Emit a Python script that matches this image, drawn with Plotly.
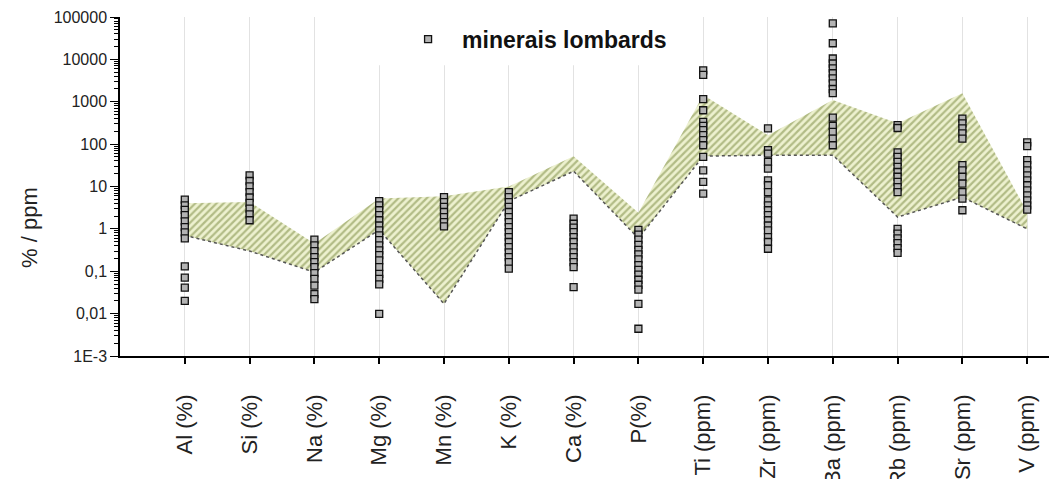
import plotly.graph_objects as go

categories = ["Al (%)", "Si (%)", "Na (%)", "Mg (%)", "Mn (%)", "K (%)", "Ca (%)", "P(%)",
              "Ti (ppm)", "Zr (ppm)", "Ba (ppm)", "Rb (ppm)", "Sr (ppm)", "V (ppm)"]

al = [4.9, 3.6, 2.8, 2.1, 1.5, 1.1, 0.83, 0.6, 0.13, 0.071, 0.041, 0.020]
si = [18.4, 13.5, 10.1, 7.4, 5.5, 4.1, 3.0, 2.2, 1.6]
na = [0.56, 0.41, 0.30, 0.215, 0.164, 0.125, 0.090, 0.066, 0.046, 0.029, 0.022]
mg = [4.5, 3.6, 2.75, 2.1, 1.6, 1.2, 0.92, 0.70, 0.54, 0.41, 0.31, 0.24, 0.18, 0.125,
      0.087, 0.066, 0.049, 0.0099]
mn = [5.6, 4.3, 3.3, 2.5, 1.9, 1.45, 1.15]
k = [7.4, 5.6, 4.3, 3.3, 2.5, 1.9, 1.45, 1.1, 0.84, 0.64, 0.49, 0.37, 0.28, 0.215, 0.164, 0.115]
ca = [1.74, 1.32, 1.07, 0.84, 0.64, 0.49, 0.37, 0.28, 0.215, 0.164, 0.125, 0.042]
p = [0.95, 0.73, 0.56, 0.42, 0.32, 0.25, 0.19, 0.14, 0.108, 0.083, 0.063, 0.048, 0.037,
     0.017, 0.0044]
ti = [5500, 4300, 1150, 630, 335, 270, 213, 163, 124, 94, 50, 24, 12.8, 6.8]
zr = [235, 72, 60, 38, 26.5, 14, 10.7, 7.4, 4.7, 3.6, 2.75, 2.1, 1.6, 1.2, 0.92, 0.64, 0.49, 0.34]
ba = [71000, 24000, 10500, 8000, 6100, 4700, 3550, 2700, 2000, 1600, 420, 270, 195, 135, 94]
rb = [280, 240, 64, 50, 38, 29, 22, 17, 12.8, 9.7, 7.4, 1.0, 0.77, 0.6, 0.46, 0.35, 0.27]
sr = [400, 310, 235, 180, 135, 32, 24, 17, 11.7, 7.4, 5.2, 2.75]
v = [110, 90, 42, 32, 24, 18.4, 14, 10.7, 8.1, 6.2, 4.7, 3.6, 2.85]

band_upper = [4.0, 4.3, 0.45, 5.2, 5.9, 10, 52, 2.4, 1450, 162, 1100, 310, 1580, 2.5]
band_lower = [0.7, 0.3, 0.095, 0.95, 0.017, 4.5, 23, 0.6, 52, 55, 55, 1.9, 5.6, 1.0]

ytick_vals = [1e-3, 1e-2, 1e-1, 1, 10, 100, 1000, 1e4, 1e5]
ytick_text = ["1E-3", "0,01", "0,1", "1", "10", "100", "1000", "10000", "100000"]
y_title = "% / ppm"

series = [al, si, na, mg, mn, k, ca, p, ti, zr, ba, rb, sr, v]
idx = list(range(len(categories)))
xs, ys = [], []
for i, vals in enumerate(series):
    xs += [i] * len(vals)
    ys += vals

FONT = "Liberation Sans, Arial, sans-serif"

fig = go.Figure()
fig.add_trace(go.Scatter(x=idx, y=band_upper, mode="lines",
                         line=dict(width=0, color="#9aa860"),
                         showlegend=False, hoverinfo="skip"))
fig.add_trace(go.Scatter(x=idx, y=band_lower, mode="lines",
                         line=dict(width=1.5, color="#555555", dash="dot"),
                         fill="tonexty",
                         fillpattern=dict(shape="/", fgcolor="#76863c", bgcolor="#edf1cf",
                                          size=5, solidity=0.45),
                         showlegend=False, hoverinfo="skip"))
fig.add_trace(go.Scatter(x=xs, y=ys, mode="markers", name="<b>minerais lombards</b>",
                         marker=dict(symbol="square", size=7, color="#b3b3b3",
                                     line=dict(color="#111111", width=1.3))))

minor_vals = [m * 10 ** e for e in range(-3, 5) for m in range(2, 10)]

fig.update_layout(
    width=1049, height=471,
    margin=dict(l=112, r=0, t=9, b=123, autoexpand=False),
    paper_bgcolor="white", plot_bgcolor="white",
    font=dict(family=FONT, color="#222222"),
    showlegend=True,
    legend=dict(x=0.2925, y=0.998, xanchor="left", yanchor="top",
                bgcolor="white", borderwidth=0, itemwidth=58,
                font=dict(size=23, color="#111111", family=FONT)),
    xaxis=dict(range=[-1.0, 13.46], tickmode="array", tickvals=idx, ticktext=categories,
               tickangle=-90, ticks="outside", ticklen=6, tickwidth=1.5, tickcolor="black",
               showline=True, linecolor="black", linewidth=1.5,
               showgrid=True, gridcolor="#e2e2e2", gridwidth=1, zeroline=False,
               tickfont=dict(size=22, color="#222222", family=FONT),
               ticklabelstandoff=22, automargin=False),
    yaxis=dict(type="log", range=[-3, 5], tickmode="array", tickvals=ytick_vals,
               ticktext=ytick_text, ticks="outside", ticklen=8, tickwidth=1.2,
               tickcolor="black", showline=True, linecolor="black", linewidth=1.5,
               showgrid=False, zeroline=False, automargin=False,
               minor=dict(tickmode="array", tickvals=minor_vals, ticks="outside",
                          ticklen=4, tickcolor="black", tickwidth=1, showgrid=False),
               tickfont=dict(size=16, color="#222222", family=FONT)),
    annotations=[dict(text=y_title, xref="paper", yref="paper", x=-0.096, y=0.378,
                      xanchor="center", yanchor="middle", textangle=-90, showarrow=False,
                      font=dict(size=22, color="#222222", family=FONT))],
    shapes=[dict(type="rect", xref="paper", yref="paper", x0=0.272, x1=0.619,
                 y0=0.858, y1=1.0, fillcolor="white", line=dict(width=0), layer="above")],
)

fig.write_html("out.html")
